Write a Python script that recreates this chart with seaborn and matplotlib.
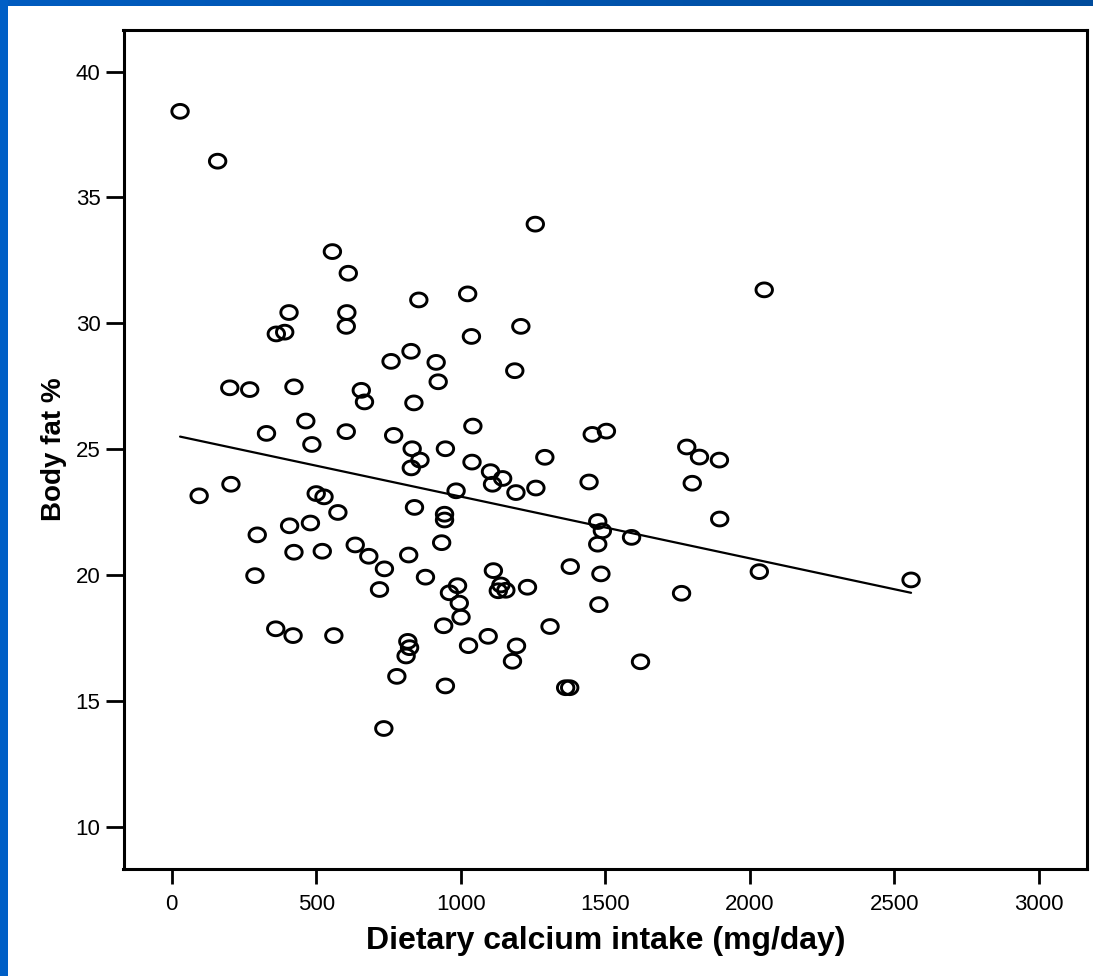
import numpy as np
import pandas as pd
import matplotlib
matplotlib.use("Agg")
import matplotlib.pyplot as plt
from matplotlib.path import Path
import seaborn as sns

# Dietary calcium intake (mg/day) and body fat (%) for each subject
calcium = [
    29, 159, 556, 611, 406, 606, 362, 391, 604, 759,
    201, 270, 423, 656, 667, 464, 328, 604, 768, 485,
    95, 205, 500, 527, 575, 408, 480, 296, 423, 521,
    635, 682, 736, 719, 288, 360, 420, 561, 734, 779,
    1258, 855, 1024, 1037, 1208, 828, 915, 922, 1187, 838,
    1042, 1455, 1504, 832, 859, 829, 947, 1039, 1291, 1103,
    1145, 1110, 984, 1191, 1260, 1444, 1782, 1826, 1895, 1801,
    1896, 840, 944, 944, 1474, 1490, 1591, 1474, 820, 934,
    878, 1113, 989, 961, 995, 1001, 1139, 1130, 1156, 1231,
    1379, 1485, 1478, 1764, 941, 1309, 1095, 1027, 1193, 1179,
    1622, 817, 823, 811, 947, 1363, 1377, 2050, 2033, 2558,
]
body_fat = [
    38.42, 36.44, 32.85, 31.99, 30.43, 30.43, 29.58, 29.65, 29.88, 28.49,
    27.44, 27.37, 27.48, 27.34, 26.88, 26.12, 25.63, 25.70, 25.55, 25.19,
    23.15, 23.61, 23.24, 23.11, 22.49, 21.96, 22.07, 21.60, 20.91, 20.95,
    21.20, 20.75, 20.25, 19.43, 19.98, 17.87, 17.60, 17.60, 13.91, 15.98,
    33.94, 30.93, 31.17, 29.48, 29.88, 28.89, 28.45, 27.68, 28.12, 26.84,
    25.92, 25.59, 25.72, 25.02, 24.57, 24.26, 25.02, 24.49, 24.68, 24.11,
    23.84, 23.61, 23.35, 23.28, 23.46, 23.70, 25.09, 24.69, 24.57, 23.65,
    22.23, 22.69, 22.42, 22.19, 22.13, 21.76, 21.50, 21.23, 20.80, 21.29,
    19.92, 20.18, 19.58, 19.30, 18.89, 18.33, 19.61, 19.38, 19.40, 19.52,
    20.34, 20.05, 18.83, 19.28, 17.99, 17.96, 17.57, 17.20, 17.19, 16.58,
    16.56, 17.37, 17.12, 16.79, 15.60, 15.53, 15.53, 31.33, 20.14, 19.81,
]

x_ticks = [0, 500, 1000, 1500, 2000, 2500, 3000]
y_ticks = [10, 15, 20, 25, 30, 35, 40]
x_label = "Dietary calcium intake (mg/day)"
y_label = "Body fat %"

df = pd.DataFrame({"calcium": calcium, "body_fat": body_fat})

sns.set_theme(style="white")
plt.rcParams["font.family"] = ["Liberation Sans", "DejaVu Sans"]

fig = plt.figure(figsize=(10.93, 9.76), dpi=100)
fig.patch.set_facecolor("white")

# blue slide border along the top and left edges
band_top = fig.add_axes([0, 1 - 6 / 976, 1, 6 / 976])
band_top.imshow(
    np.linspace(0, 1, 256)[None, :],
    aspect="auto",
    cmap=matplotlib.colors.LinearSegmentedColormap.from_list("b", ["#005cc0", "#004c9c"]),
)
band_top.set_axis_off()
band_left = fig.add_axes([0, 0, 8 / 1093, 1])
band_left.set_facecolor("#005fc6")
band_left.set_xticks([])
band_left.set_yticks([])
for s in band_left.spines.values():
    s.set_visible(False)

ax = fig.add_axes([123.5 / 1093, (976 - 869) / 976, (1087 - 123.5) / 1093, (869 - 29.5) / 976])
ax.set_facecolor("white")

# slightly wide open circle marker
t = np.linspace(0, 2 * np.pi, 60)
ellipse = Path(np.column_stack([np.cos(t), 0.84 * np.sin(t)]), closed=True)

sns.regplot(
    data=df, x="calcium", y="body_fat", ax=ax, ci=None, color="black",
    marker=ellipse,
    scatter_kws=dict(s=140, facecolors="none", edgecolors="black", linewidths=2.1, alpha=1, zorder=3),
    line_kws=dict(linewidth=1.6, color="black", zorder=2),
)

ax.set_xlim(-166.7, 3166.7)
ax.set_ylim(8.33, 41.67)
ax.set_xticks(x_ticks)
ax.set_yticks(y_ticks)
ax.set_xticklabels([str(v) for v in x_ticks], fontsize=16)
ax.set_yticklabels([str(v) for v in y_ticks], fontsize=16)
ax.tick_params(axis="x", direction="out", length=11, width=2, color="black", pad=7, labelcolor="black")
ax.tick_params(axis="y", direction="out", length=13, width=2, color="black", pad=3.5, labelcolor="black")
ax.tick_params(bottom=True, left=True)

for s in ax.spines.values():
    s.set_visible(True)
    s.set_color("black")
    s.set_linewidth(2.2)

ax.set_xlabel(x_label, fontsize=23, fontweight="bold", color="black", labelpad=8)
ax.set_ylabel(y_label, fontsize=20, fontweight="bold", color="black", labelpad=6)
ax.grid(False)

fig.savefig("out.png", dpi=100, facecolor="white")
